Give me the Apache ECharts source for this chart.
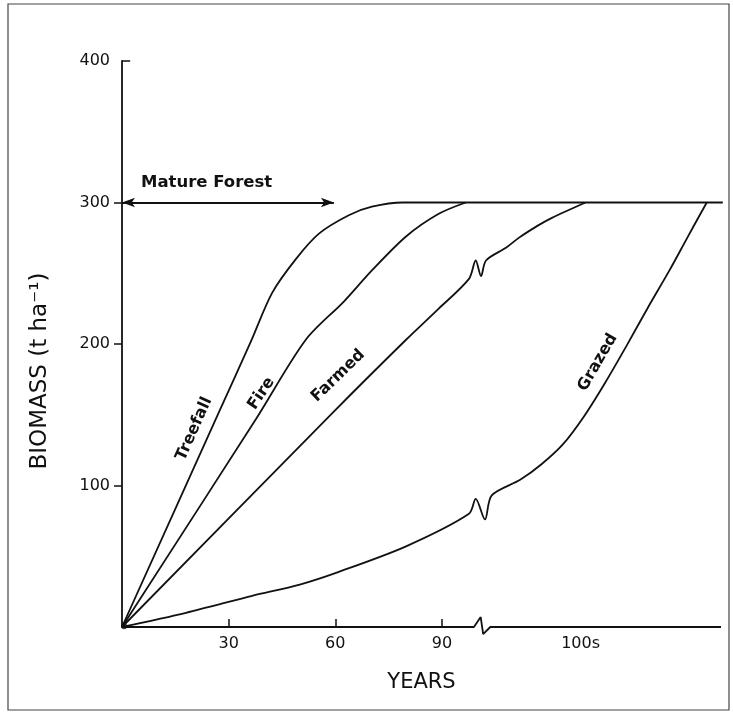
<!DOCTYPE html>
<html><head><meta charset="utf-8">
<script src="https://cdn.jsdelivr.net/npm/echarts@6/dist/echarts.min.js"></script>
<style>html,body{margin:0;padding:0;background:#fff}#c{width:733px;height:714px}</style>
</head><body><div id="c"></div>
<script>
// ---- data (years, biomass t/ha) ----
const treefall = [[0,0],[27.3,152],[36.3,202],[42.2,236],[48.9,260],[55.4,278],[63.8,291],[70.3,297],[79,300],[169,300]];
const fire     = [[0,0],[37.7,147],[51.7,203],[62.4,230],[70.3,252],[79.9,276],[89.1,292],[96.7,300]];
const farmed   = [[0,0],[59.1,151],[79.9,203],[89.1,225],[97.6,246],[99.5,259],[101,248],[102.4,259],[108,268],[111.6,275],[117.2,284],[120.8,289],[130.4,300]];
const grazed   = [[0,0],[18,10],[36.6,22],[50,30],[61,39],[79.9,57],[97.6,80],[99.5,90.5],[102.1,76],[104,93],[112,104],[118,115],[124,129],[130,149],[136,173],[142,199],[148,226],[154,252],[159,275],[162.5,291],[164.5,300]];
const xAxisBroken = [[0,0],[99,0],[100.9,7],[101.6,-5],[103.6,0],[168.5,0]];
const matureForestRange = [0, 59.6];
const matureForestLevel = 300;
const xTickValues = [30,60,90];
const xLabelValues = [30,60,90,129];
const xLabelTexts = ['30','60','90','100s'];
const yTickValues = [100,200,300];
const yLabelValues = [100,200,300,400];
const yTopTick = [[0,400],[2.3,400]];
const origin = [[0.6,0.6]];
const curveNames = ['Treefall','Fire','Farmed','Grazed'];
const yTitle = 'BIOMASS (t ha⁻¹)';

const INK = '#111';
const FONT = '"DejaVu Sans", sans-serif';
const lineSeries = (name, data, extra) => Object.assign({
  name, type:'line', data, showSymbol:false, symbol:'none', smooth:0.3,
  lineStyle:{color:INK, width:1.8}, clip:false, silent:true, z:3
}, extra||{});

const option = {
  backgroundColor:'#fff',
  animation:false,
  grid:{left:122, right:12, top:61, bottom:87, containLabel:false},
  xAxis:{
    type:'value', min:0, max:168.5,
    name:'YEARS', nameLocation:'middle', nameGap:45,
    nameTextStyle:{fontFamily:FONT, fontSize:21, color:INK},
    axisLine:{show:false},
    splitLine:{show:false},
    axisTick:{show:true, inside:true, length:8, customValues:xTickValues, lineStyle:{color:INK, width:1.5}},
    axisLabel:{customValues:xLabelValues, margin:9, fontFamily:FONT, fontSize:16, color:INK,
      formatter:v=>{const i=xLabelValues.findIndex(a=>Math.abs(a-v)<0.01);return i>=0?xLabelTexts[i]:'';}}
  },
  yAxis:{
    type:'value', min:0, max:400, interval:100,
    axisLine:{show:true, lineStyle:{color:INK, width:1.8}},
    splitLine:{show:false},
    axisTick:{show:true, inside:false, length:8, customValues:yTickValues, lineStyle:{color:INK, width:1.5}},
    axisLabel:{customValues:yLabelValues, margin:12, fontFamily:FONT, fontSize:16, color:INK}
  },
  series:[
    lineSeries(curveNames[0], treefall, {
      markLine:{silent:true, symbol:['arrow','arrow'], symbolSize:[7,13], label:{show:false},
        lineStyle:{color:INK, width:1.8, type:'solid'},
        data:[[{coord:[matureForestRange[0],matureForestLevel]},{coord:[matureForestRange[1],matureForestLevel]}]]}
    }),
    lineSeries(curveNames[1], fire),
    lineSeries(curveNames[2], farmed),
    lineSeries(curveNames[3], grazed),
    lineSeries('xaxis', xAxisBroken, {smooth:false}),
    lineSeries('ytop', yTopTick, {smooth:false, lineStyle:{color:INK,width:1.5}}),
    {type:'scatter', data:origin, symbolSize:6, itemStyle:{color:INK}, silent:true, z:4}
  ]
};

const chart = echarts.init(document.getElementById('c'), null, {renderer:'canvas'});
chart.setOption(option);

function lab(text, pos, rotDeg, size, weight) {
  const p = chart.convertToPixel({gridIndex:0}, pos);
  return {type:'text', x:p[0], y:p[1], rotation: rotDeg*Math.PI/180, z:10,
    style:{text, font:`${weight||'bold'} ${size}px "DejaVu Sans"`, fill:INK, align:'center', verticalAlign:'middle'}};
}
chart.setOption({graphic:[
  {type:'rect', shape:{x:8,y:4,width:721,height:706}, style:{fill:'none', stroke:'#444', lineWidth:1.2}, z:0},
  {type:'text', x:40, y:371, rotation:Math.PI/2, z:10,
    style:{text:yTitle, font:'23px "DejaVu Sans"', fill:INK, align:'center', verticalAlign:'middle'}},
  lab('Mature Forest', [23.8,314], 0, 16.5),
  lab(curveNames[0], [20.3,140], 66, 16),
  lab(curveNames[1], [39.2,165], 56, 16),
  lab(curveNames[2], [60.8,177.5], 44, 16),
  lab(curveNames[3], [133.8,187], 60, 16)
]});
</script></body></html>
